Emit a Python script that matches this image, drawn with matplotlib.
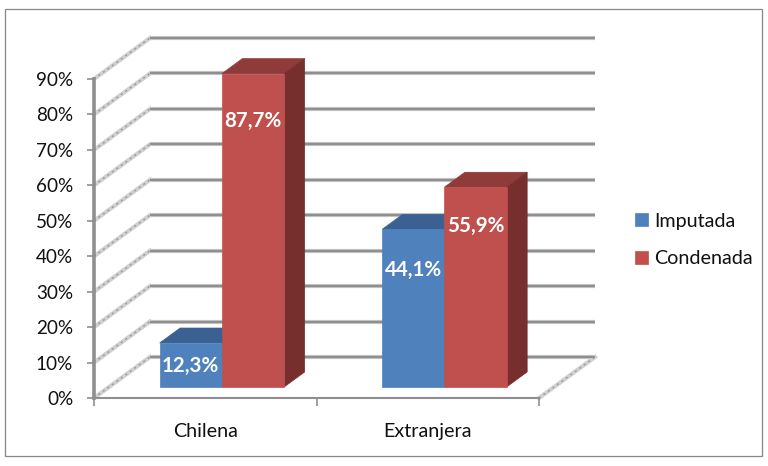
import matplotlib
matplotlib.use("Agg")
import matplotlib.pyplot as plt
from matplotlib.patches import Rectangle

plt.rcParams['font.family'] = ['Lato', 'DejaVu Sans']

categories = ["Chilena", "Extranjera"]
series_names = ["Imputada", "Condenada"]
imputada = [12.3, 44.1]
condenada = [87.7, 55.9]
y_ticks = [0, 10, 20, 30, 40, 50, 60, 70, 80, 90]

W, H = 768, 466
fig = plt.figure(figsize=(W / 100, H / 100), dpi=100, facecolor="white")
# frame of the chart area
fig.add_artist(Rectangle((5 / W, 1 - 456 / H), 757 / W, 447 / H, transform=fig.transFigure,
                         fill=False, ec="#868686", lw=0.9))

X0, X1, Y0, Y90 = 94, 539, 398, 79
ax = fig.add_axes([X0 / W, 1 - Y0 / H, (X1 - X0) / W, (Y0 - Y90) / H])
ax.set_xlim(0, 2)
ax.set_ylim(0, 90)
ax.patch.set_alpha(0)

PX_X = 2 / (X1 - X0)      # data units per pixel, horizontally
PX_Y = 90 / (Y0 - Y90)    # data units per pixel, vertically
DEPTH_X, DEPTH_Y = 56 * PX_X, 41 * PX_Y


def proj(x, y, d):
    return x + DEPTH_X * d, y + DEPTH_Y * d


GRID = "#8f8f8f"
for t in y_ticks:
    # light halo then the line on the back wall
    xa, ya = proj(0, t, 1)
    xb, yb = proj(2, t, 1)
    ax.plot([xa, xb], [ya, yb], color="#c4c4c4", lw=3.0, zorder=1, solid_capstyle="butt", clip_on=False)
    ax.plot([xa, xb], [ya, yb], color=GRID, lw=1.5, zorder=1.1, solid_capstyle="butt", clip_on=False)
    # side wall
    xc, yc = proj(0, t, 0)
    ax.plot([xc, xa], [yc, ya], color="#d0d0d0", lw=3.0, zorder=1, clip_on=False)
    ax.plot([xc, xa], [yc, ya], color="#9a9a9a", lw=1.0, ls=(0, (1.5, 2.5)), zorder=1.1, clip_on=False)
# floor edge, right
xc, yc = proj(2, 0, 0)
xa, ya = proj(2, 0, 1)
ax.plot([xc, xa], [yc, ya], color="#d0d0d0", lw=3.0, zorder=1, clip_on=False)
ax.plot([xc, xa], [yc, ya], color="#9a9a9a", lw=1.0, ls=(0, (1.5, 2.5)), zorder=1.1, clip_on=False)

BAR_W = 0.28
D0, D1 = 0.27, 0.635
Y_SCALE = 1.008
CENTER = 0.507
COL = {
    "Imputada": ("#4F81BD", "#3B6192", "#335580"),
    "Condenada": ("#C0504D", "#8F3B39", "#772F2D"),
}
LABEL_DROP = {("Imputada", 0): 23, ("Condenada", 0): 47,
              ("Imputada", 1): 41, ("Condenada", 1): 39}


def bar3d(left, value, cols, z, label=None):
    right = left + BAR_W
    top = value * Y_SCALE
    quad = lambda pts: zip(*[proj(*p) for p in pts])
    ax.fill(*quad([(left, 0, D0), (right, 0, D0), (right, top, D0), (left, top, D0)]),
            color=cols[0], lw=0.5, zorder=z + 0.2, label=label, clip_on=False)
    ax.fill(*quad([(left, top, D0), (right, top, D0), (right, top, D1), (left, top, D1)]),
            color=cols[1], lw=0.5, zorder=z + 0.1, clip_on=False)
    ax.fill(*quad([(right, 0, D0), (right, 0, D1), (right, top, D1), (right, top, D0)]),
            color=cols[2], lw=0.5, zorder=z + 0.1, clip_on=False)
    return proj(left + BAR_W / 2, top, D0)


for i, cat in enumerate(categories):
    for j, (name, vals) in enumerate(zip(series_names, [imputada, condenada])):
        left = i + CENTER + (j - 1) * BAR_W
        xt, yt = bar3d(left, vals[i], COL[name], 3 + j, label=name if i == 0 else None)
        txt = f"{vals[i]:.1f}%".replace(".", ",")
        ax.annotate(txt, (xt, yt), xytext=(0, -LABEL_DROP[(name, i)] * 0.72),
                    textcoords="offset points", ha="center", va="center",
                    color="white", fontsize=14.8, fontweight="bold", zorder=10,
                    annotation_clip=False)

for s in ("top", "right"):
    ax.spines[s].set_visible(False)
ax.spines["left"].set_color(GRID)
ax.spines["left"].set_linewidth(2.6)
ax.spines["bottom"].set_color(GRID)
ax.spines["bottom"].set_linewidth(1.5)
ax.set_zorder(2)

ax.set_yticks(y_ticks)
ax.set_yticklabels([f"{t}%" for t in y_ticks], fontsize=13.6, color="#111111", va="center_baseline")
ax.set_xticks([0, 1, 2])
ax.set_xticklabels([])
ax.set_xticks([0.5, 1.5], minor=True)
ax.set_xticklabels(categories, minor=True, fontsize=14.2, color="#111111")
ax.tick_params(axis="x", which="major", length=6, width=1.2, color=GRID, direction="out")
ax.tick_params(axis="x", which="minor", length=0, pad=18)
ax.tick_params(axis="y", length=5, width=1.2, color=GRID, pad=10)

handles, labels = ax.get_legend_handles_labels()
ax.legend(handles, labels, loc="center left", bbox_to_anchor=(635 / W, 1 - 240 / H),
          bbox_transform=fig.transFigure, frameon=False, fontsize=14.2,
          handlelength=0.66, handleheight=0.6, handletextpad=0.3, labelspacing=1.05,
          borderpad=0, borderaxespad=0, labelcolor="#111111")

fig.savefig("out.png", dpi=100)
